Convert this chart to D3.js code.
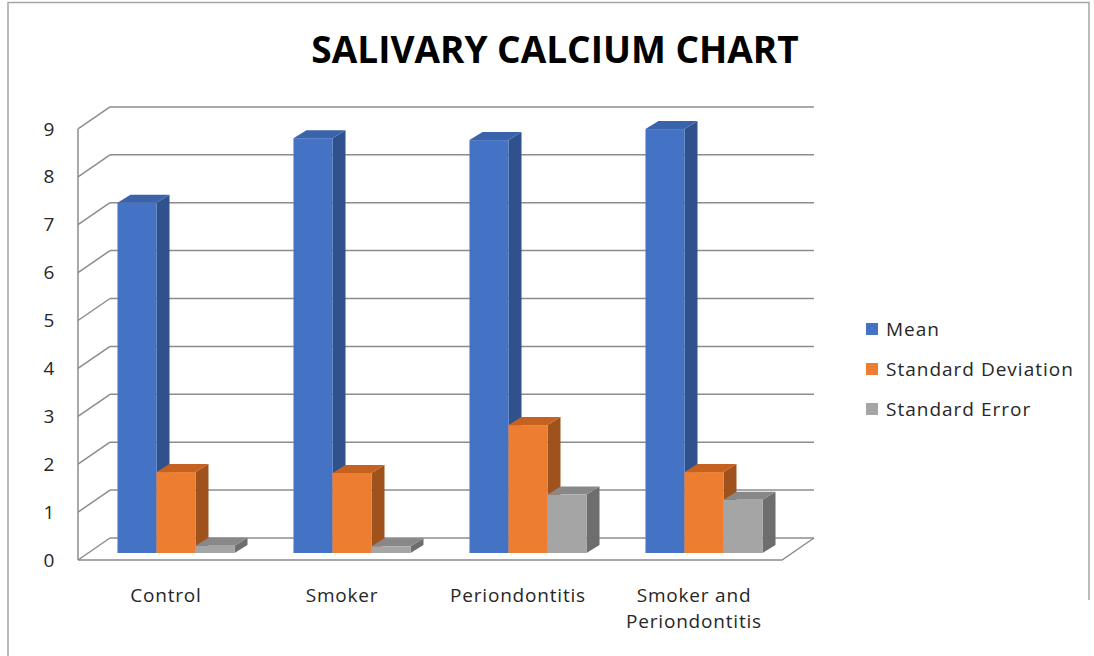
<!DOCTYPE html>
<html>
<head>
<meta charset="utf-8">
<script src="https://cdn.jsdelivr.net/npm/d3@7"></script>
<style>
  body { margin: 0; background: #fff; }
  text { font-family: "Open Sans", "Noto Sans", sans-serif; fill: #262626; }
</style>
</head>
<body>
<div id="chart"></div>
<script>
// chart data
var categories = ["Control", "Smoker", "Periondontitis", "Smoker and|Periondontitis"];
var seriesNames = ["Mean", "Standard Deviation", "Standard Error"];
var meanValues = [7.31, 8.66, 8.62, 8.85];
var sdValues = [1.69, 1.67, 2.67, 1.69];
var seValues = [0.15, 0.14, 1.22, 1.11];
var yTicks = [0, 1, 2, 3, 4, 5, 6, 7, 8, 9];

var colors = [
    { front: "#4472c4", side: "#2f528f", top: "#3b63ab" },
    { front: "#ed7d31", side: "#a0521d", top: "#c5621f" },
    { front: "#a5a5a5", side: "#6e6e6e", top: "#888888" }
];

var width = 1094, height = 656;

var svg = d3.select("#chart")
    .append("svg")
    .attr("width", width)
    .attr("height", height);

// frame
svg.append("path")
    .attr("d", "M8,656 L8,2.5 L1089,2.5 L1089,600")
    .attr("fill", "none")
    .attr("stroke", "#a6a6a6")
    .attr("stroke-width", 1.5);

// title
svg.append("text")
    .attr("x", 555)
    .attr("y", 63)
    .attr("text-anchor", "middle")
    .style("font-size", "37px")
    .style("font-weight", "bold")
    .style("fill", "#000")
    .text("SALIVARY CALCIUM CHART");

// front plane of the 3d box, the wall sits behind it by (wallDx, wallDy)
var x0 = 78, x1 = 782, yBase = 560;
var wallDx = 32, wallDy = -22;
var barDx = 10, barDy = -7;      // where the bar front faces sit
var depthDx = 13, depthDy = -8;  // thickness of the bars

var y = d3.scaleLinear()
    .domain([0, 9])
    .range([yBase, yBase - 9 * 47.9]);

var xBand = d3.scaleBand()
    .domain(categories)
    .range([x0, x1])
    .paddingInner(0.335)
    .paddingOuter(0.1675);

var xSeries = d3.scaleBand()
    .domain(seriesNames)
    .range([0, xBand.bandwidth()]);

var gridColor = "#8c8c8c";
var grid = svg.append("g");

// back wall gridlines and left wall diagonals
yTicks.forEach(function (t) {
    var yy = y(t);
    grid.append("line")
        .attr("x1", x0 + wallDx).attr("y1", yy + wallDy)
        .attr("x2", x1 + wallDx).attr("y2", yy + wallDy)
        .attr("stroke", gridColor).attr("stroke-width", 1.5);
    grid.append("line")
        .attr("x1", x0).attr("y1", yy)
        .attr("x2", x0 + wallDx).attr("y2", yy + wallDy)
        .attr("stroke", gridColor).attr("stroke-width", 1.5);
});

// left vertical axis line
grid.append("line")
    .attr("x1", x0).attr("y1", y(9))
    .attr("x2", x0).attr("y2", y(0))
    .attr("stroke", gridColor).attr("stroke-width", 1.5);

// floor front and right edges
grid.append("path")
    .attr("d", "M" + x0 + "," + y(0) + " L" + x1 + "," + y(0) +
        " L" + (x1 + wallDx) + "," + (y(0) + wallDy))
    .attr("fill", "none")
    .attr("stroke", gridColor).attr("stroke-width", 1.5);

// y tick labels
svg.append("g").selectAll("text")
    .data(yTicks)
    .enter()
    .append("text")
    .attr("x", 49)
    .attr("y", function (d) { return y(d); })
    .attr("dy", "0.35em")
    .attr("text-anchor", "middle")
    .style("font-size", "19px")
    .text(function (d) { return d; });

// build bar records
var allValues = [meanValues, sdValues, seValues];
var bars = [];
categories.forEach(function (c, i) {
    seriesNames.forEach(function (s, j) {
        bars.push({ cat: c, series: s, idx: j, value: allValues[j][i] });
    });
});

var barG = svg.append("g");
bars.forEach(function (d) {
    var bx = xBand(d.cat) + xSeries(d.series) + barDx;
    var bw = xSeries.bandwidth();
    var by0 = y(0) + barDy;
    var by1 = y(d.value) + barDy;
    var col = colors[d.idx];

    // side face
    barG.append("path")
        .attr("d", "M" + (bx + bw) + "," + by1 +
            " L" + (bx + bw + depthDx) + "," + (by1 + depthDy) +
            " L" + (bx + bw + depthDx) + "," + (by0 + depthDy) +
            " L" + (bx + bw) + "," + by0 + "Z")
        .attr("fill", col.side);
    // top face
    barG.append("path")
        .attr("d", "M" + bx + "," + by1 +
            " L" + (bx + depthDx) + "," + (by1 + depthDy) +
            " L" + (bx + bw + depthDx) + "," + (by1 + depthDy) +
            " L" + (bx + bw) + "," + by1 + "Z")
        .attr("fill", col.top);
    // front face
    barG.append("rect")
        .attr("x", bx)
        .attr("y", by1)
        .attr("width", bw)
        .attr("height", by0 - by1)
        .attr("fill", col.front);
});

// category labels
var catG = svg.append("g");
categories.forEach(function (c) {
    var lines = c.split("|");
    var cx = xBand(c) + xBand.bandwidth() / 2;
    var t = catG.append("text")
        .attr("x", cx)
        .attr("y", 602)
        .attr("text-anchor", "middle")
        .style("font-size", "19px")
        .style("letter-spacing", "0.8px");
    lines.forEach(function (l, k) {
        t.append("tspan")
            .attr("x", cx)
            .attr("dy", k === 0 ? 0 : 26)
            .text(l);
    });
});

// legend
var legend = svg.append("g");
seriesNames.forEach(function (s, i) {
    var ly = 329 + i * 40;
    legend.append("rect")
        .attr("x", 866).attr("y", ly - 6)
        .attr("width", 12).attr("height", 12)
        .attr("fill", colors[i].front);
    legend.append("text")
        .attr("x", 886).attr("y", ly)
        .attr("dy", "0.35em")
        .style("font-size", "19px")
        .style("letter-spacing", "1px")
        .text(s);
});
</script>
</body>
</html>
